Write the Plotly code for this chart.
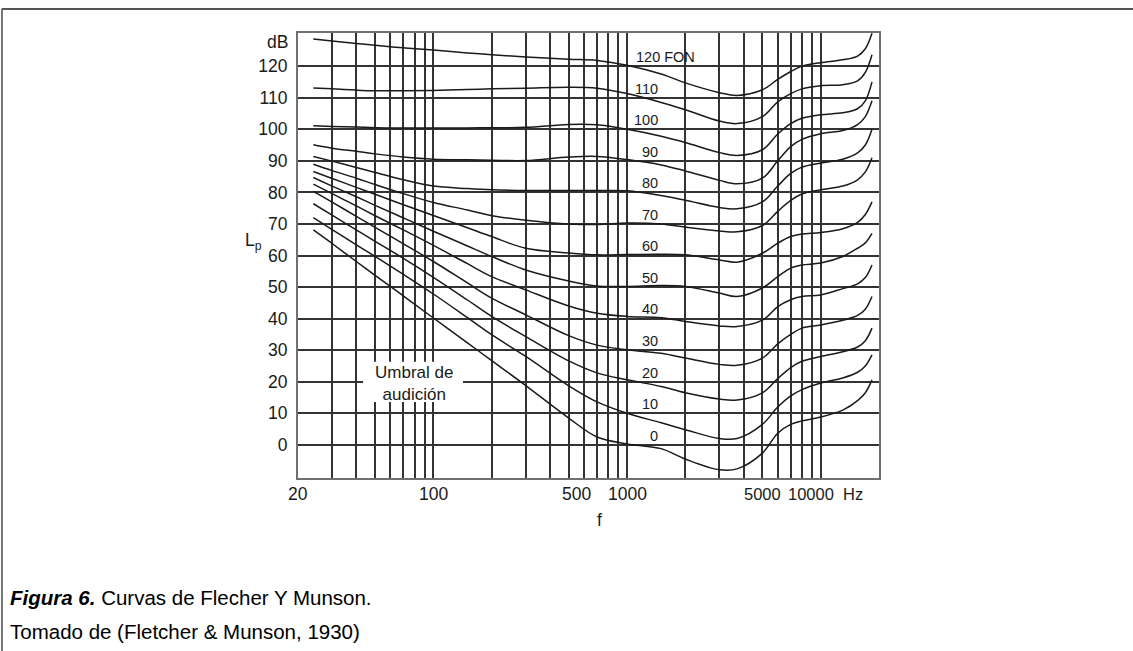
import math
import plotly.graph_objects as go

# ---------------- data ----------------
FREQ_HZ = [24, 30, 40, 50, 70, 100, 150, 200, 300, 500, 700, 1000, 1500, 2000,
           3000, 3700, 5000, 6000, 7000, 8000, 10000, 13000, 15500, 17000, 18400]

PHON = [120, 110, 100, 90, 80, 70, 60, 50, 40, 30, 20, 10, 0]

L120 = [128.6, 128.0, 127.2, 126.6, 125.8, 125.1, 124.2, 123.6, 122.9, 122.2, 121.8, 120.3, 117.5, 114.7, 111.6, 110.7, 112.5, 115.8, 118.3, 120.0, 121.1, 122.0, 123.2, 125.5, 130.4]
L110 = [113.1, 112.8, 112.4, 112.2, 112.2, 112.3, 112.6, 112.8, 113.0, 113.3, 113.0, 111.3, 108.5, 106.2, 102.6, 101.8, 104.0, 108.7, 111.3, 112.8, 113.8, 114.1, 115.3, 118.0, 123.6]
L100 = [101.1, 100.9, 100.7, 100.5, 100.4, 100.4, 100.4, 100.5, 100.6, 101.5, 101.4, 100.0, 97.8, 95.8, 92.6, 91.7, 93.5, 98.5, 101.8, 103.5, 104.6, 105.2, 106.5, 109.0, 115.0]
L90 = [95.1, 94.0, 93.0, 92.2, 91.2, 90.5, 90.3, 90.2, 90.1, 91.2, 91.4, 90.4, 88.7, 86.8, 83.8, 82.7, 84.5, 90.0, 94.5, 96.8, 98.6, 99.6, 101.5, 104.0, 109.0]
L80 = [91.4, 89.9, 87.9, 86.3, 84.0, 82.0, 81.2, 80.8, 80.6, 80.6, 80.6, 80.5, 79.0, 77.5, 75.2, 74.8, 77.0, 82.0, 86.0, 88.0, 89.3, 90.5, 92.5, 95.0, 100.0]
L70 = [88.9, 86.9, 84.5, 82.5, 79.6, 76.8, 74.4, 72.6, 71.2, 70.0, 69.8, 70.3, 70.0, 69.0, 67.8, 67.5, 69.5, 74.0, 77.5, 79.5, 80.8, 82.0, 84.0, 86.5, 91.0]
L60 = [86.6, 84.4, 81.6, 79.4, 76.1, 72.7, 68.8, 66.0, 62.3, 60.8, 60.2, 60.3, 60.4, 60.2, 58.6, 57.9, 60.7, 63.9, 66.0, 66.8, 67.3, 68.5, 70.5, 73.0, 77.0]
L50 = [84.7, 82.0, 78.6, 75.9, 71.9, 67.7, 63.0, 59.7, 55.4, 51.9, 50.3, 50.2, 50.5, 50.2, 48.1, 47.0, 49.7, 53.3, 56.0, 57.0, 57.6, 59.7, 62.3, 64.0, 67.0]
L40 = [82.6, 79.6, 75.7, 72.6, 68.1, 63.2, 57.4, 53.3, 49.1, 44.0, 41.7, 40.7, 40.3, 39.1, 37.7, 37.5, 39.5, 43.8, 46.0, 47.0, 47.5, 49.5, 51.0, 53.0, 57.0]
L30 = [80.3, 76.9, 72.4, 68.9, 63.7, 58.1, 51.3, 46.5, 41.2, 34.6, 31.6, 30.1, 29.0, 27.5, 25.5, 25.2, 27.5, 32.0, 35.0, 37.0, 38.0, 39.5, 41.0, 43.0, 47.0]
L20 = [76.4, 72.8, 68.1, 64.5, 59.1, 53.1, 45.9, 40.7, 34.3, 26.6, 22.8, 20.6, 18.5, 16.5, 14.5, 14.2, 16.5, 21.0, 24.5, 26.5, 28.0, 29.5, 31.0, 33.0, 37.0]
L10 = [72.0, 68.2, 63.4, 59.7, 54.0, 47.8, 40.3, 34.9, 28.0, 18.7, 13.6, 10.0, 7.0, 4.8, 2.0, 2.0, 6.5, 12.0, 15.5, 17.5, 19.6, 21.2, 23.0, 25.0, 28.5]
L0 = [68.1, 63.8, 58.1, 53.7, 47.2, 40.2, 32.3, 26.7, 18.8, 8.5, 2.5, 0.3, -1.2, -4.5, -7.9, -7.6, -2.6, 3.7, 6.5, 7.6, 8.8, 11.0, 14.0, 16.5, 20.6]

CURVES = [L120, L110, L100, L90, L80, L70, L60, L50, L40, L30, L20, L10, L0]
CURVE_LABELS = ["120 FON", "110", "100", "90", "80", "70", "60", "50", "40", "30", "20", "10", "0"]

X_GRID = [20, 30, 40, 50, 60, 70, 80, 90, 100, 200, 300, 400, 500, 600, 700, 800, 900,
          1000, 2000, 3000, 4000, 5000, 6000, 7000, 8000, 9000, 10000, 20000]
X_TICK_TEXT = ["20", "100", "500", "1000", "5000", "10000", "Hz"]
X_TICK_AT = [20, 100, 550, 1000, 5000, 8900, 14700]
Y_TICKS = [0, 10, 20, 30, 40, 50, 60, 70, 80, 90, 100, 110, 120]
Y_TICK_TEXT = [str(v) for v in Y_TICKS]

FONT = "Liberation Sans, Arial, sans-serif"
INK = "#1a1a1a"
GRID = "#333333"

fig = go.Figure()
for name, vals in zip(CURVE_LABELS, CURVES):
    fig.add_trace(go.Scatter(
        x=FREQ_HZ, y=vals, mode="lines", name=name,
        line=dict(color=INK, width=1.5, shape="spline", smoothing=1.0),
        showlegend=False, hoverinfo="skip"))

L = math.log10
ann = []
# curve labels
for ph, txt in zip(PHON, CURVE_LABELS):
    if txt.endswith("FON"):
        ann.append(dict(x=L(1090), y=ph + 2.9, text=txt, xanchor="left"))
    else:
        ann.append(dict(x=L(1480), y=ph + 2.9, text=txt, xanchor="right"))
for a in ann:
    a.update(xref="x", yref="y", showarrow=False, yanchor="middle",
             font=dict(family=FONT, size=14.5, color=INK))

# x tick labels
for t, f in zip(X_TICK_TEXT, X_TICK_AT):
    small = t in ("5000", "10000", "Hz")
    ann.append(dict(x=L(f), y=-0.035, xref="x", yref="paper", text=t, showarrow=False,
                    xanchor="center", yanchor="middle",
                    font=dict(family=FONT, size=16.5 if small else 17.5, color=INK)))
# axis names
ann.append(dict(x=L(720), y=-0.094, xref="x", yref="paper", text="f", showarrow=False,
                xanchor="center", yanchor="middle",
                font=dict(family=FONT, size=17.5, color=INK)))
ann.append(dict(x=-0.013, y=127.7, xref="paper", yref="y", text="dB", showarrow=False,
                xanchor="right", yanchor="middle", font=dict(family=FONT, size=17.5, color=INK)))
ann.append(dict(x=-0.058, y=64.5, xref="paper", yref="y", text="L<sub>p</sub>", showarrow=False,
                xanchor="right", yanchor="middle", font=dict(family=FONT, size=17.5, color=INK)))
# threshold label (white box hides the grid behind it)
ann.append(dict(x=L(79), y=19.6, xref="x", yref="y", text="Umbral de<br>audición",
                showarrow=False, xanchor="center", yanchor="middle",
                font=dict(family=FONT, size=17, color=INK)))
# caption
ann.append(dict(x=-0.5, y=-0.268, xref="paper", yref="paper",
                text="<b><i>Figura 6.</i></b> Curvas de Flecher Y Munson.",
                showarrow=False, xanchor="left", yanchor="middle",
                font=dict(family=FONT, size=20.5, color="#000")))
ann.append(dict(x=-0.5, y=-0.346, xref="paper", yref="paper",
                text="Tomado de (Fletcher &amp; Munson, 1930)",
                showarrow=False, xanchor="left", yanchor="middle",
                font=dict(family=FONT, size=20.5, color="#000")))

shapes = [
    # white box behind the threshold label
    dict(type="rect", xref="paper", yref="paper", x0=0.112, x1=0.284, y0=0.171, y1=0.261,
         fillcolor="white", line=dict(width=0), layer="above"),
    # outer page borders
    dict(type="line", xref="paper", yref="paper", x0=-0.51, x1=1.44, y0=1.054, y1=1.054,
         line=dict(color="#555", width=2)),
    dict(type="line", xref="paper", yref="paper", x0=-0.5095, x1=-0.5095, y0=1.054, y1=-0.40,
         line=dict(color="#777", width=2)),
]

fig.update_layout(
    width=1133, height=651, autosize=False,
    margin=dict(l=298, r=254, t=33, b=173),
    paper_bgcolor="white", plot_bgcolor="white",
    annotations=ann, shapes=shapes,
    font=dict(family=FONT, color=INK),
)
fig.update_xaxes(type="log", range=[L(20), L(20000)], tickvals=X_GRID,
                 showticklabels=False, ticks="", showgrid=True, gridcolor=GRID,
                 gridwidth=1.5, showline=True, mirror=True, linecolor="#707070",
                 linewidth=2, zeroline=False)
fig.update_yaxes(range=[-10.5, 130.5], tickvals=Y_TICKS, ticktext=Y_TICK_TEXT,
                 tickfont=dict(family=FONT, size=17.5, color=INK), ticks="",
                 ticklabelstandoff=5,
                 showgrid=True, gridcolor=GRID, gridwidth=1.5, showline=True,
                 mirror=True, linecolor="#707070", linewidth=2, zeroline=False)

fig.write_html("out.html", config={"displayModeBar": False})
